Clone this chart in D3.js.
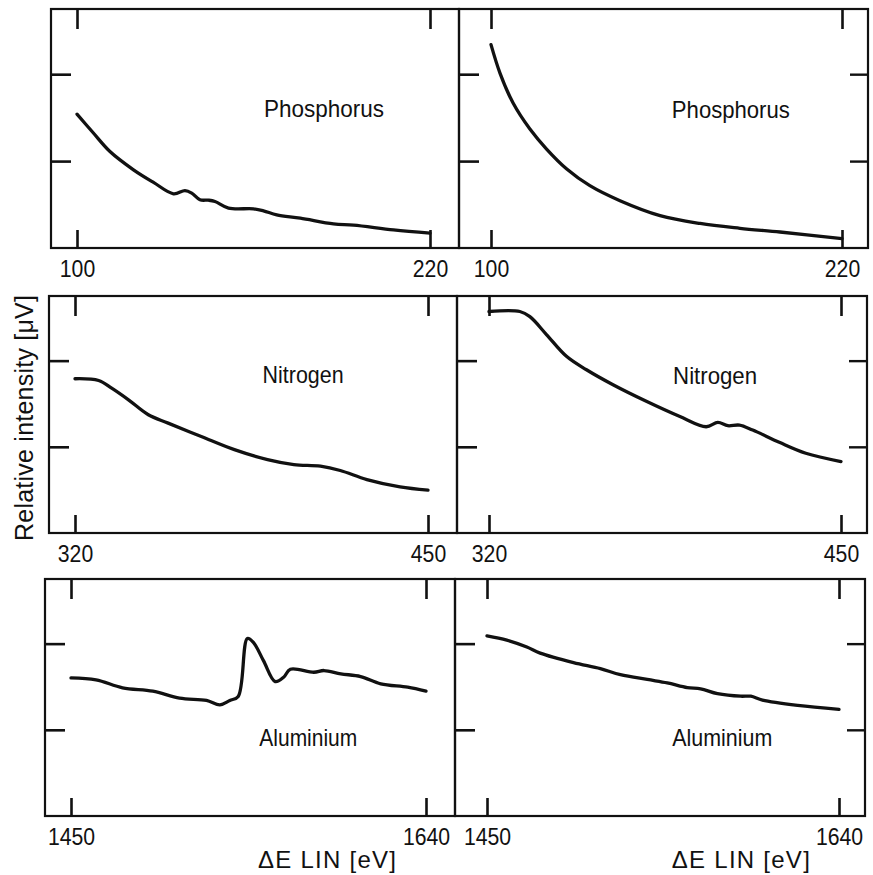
<!DOCTYPE html>
<html>
<head>
<meta charset="utf-8">
<script src="https://cdn.jsdelivr.net/npm/d3@7"></script>
<style>
  body { margin: 0; background: #fff; }
  text { font-family: "Liberation Sans", Arial, sans-serif; fill: #111; }
</style>
</head>
<body>
<svg id="chart" width="873" height="875"></svg>
<script>
// --- data (energy loss in eV, relative intensity) ---
var phosTicks = [100, 220];
var nitroTicks = [320, 450];
var alumTicks = [1450, 1640];

var phosLeftE = [100, 105.5, 111.2, 119.2, 126, 132.8, 136.7, 139, 141.8, 144.7, 146.9, 151.5, 160, 163.4, 167.9, 175.9, 187.2, 194, 207.6, 220];
var phosLeftI = [1.54, 1.326, 1.11, 0.90, 0.755, 0.624, 0.66, 0.632, 0.555, 0.55, 0.535, 0.459, 0.451, 0.428, 0.381, 0.343, 0.277, 0.262, 0.208, 0.17];

var phosRightE = [100, 103.1, 107.6, 113.3, 119, 125.9, 133.8, 144.1, 157.8, 171.5, 185.1, 198.8, 220];
var phosRightI = [2.34, 2.01, 1.665, 1.369, 1.139, 0.909, 0.717, 0.544, 0.372, 0.282, 0.227, 0.184, 0.109];

var nitroLeftE = [320, 328.7, 333.5, 339.7, 347, 354.3, 366.5, 378.7, 390.9, 400.6, 410.4, 417.7, 427.5, 439.7, 450];
var nitroLeftI = [1.79, 1.77, 1.68, 1.545, 1.372, 1.275, 1.12, 0.967, 0.852, 0.794, 0.775, 0.725, 0.62, 0.535, 0.497];

var nitroRightE = [320, 331.4, 335.1, 341.3, 348.6, 356, 365.8, 378.1, 390.3, 400.2, 404.5, 408.2, 412.5, 417.4, 427.2, 437, 450];
var nitroRightI = [2.57, 2.57, 2.51, 2.30, 2.05, 1.894, 1.72, 1.528, 1.354, 1.233, 1.283, 1.245, 1.252, 1.194, 1.052, 0.925, 0.829];

var alumLeftE = [1450, 1463.4, 1477.6, 1493.8, 1508.1, 1522.5, 1529.7, 1535, 1539.5, 1544.4, 1547.6, 1553, 1559.3, 1563.8, 1567.4, 1580, 1585.4, 1594.4, 1605, 1615.8, 1630.2, 1640];
var alumLeftI = [1.603, 1.58, 1.488, 1.449, 1.368, 1.341, 1.29, 1.341, 1.387, 2.06, 2.015, 1.803, 1.56, 1.61, 1.703, 1.668, 1.688, 1.65, 1.618, 1.534, 1.495, 1.449];

var alumRightE = [1450, 1460.7, 1471.5, 1478.7, 1496.7, 1511.2, 1522, 1536.5, 1547.3, 1558.1, 1565.3, 1574.4, 1587, 1592.4, 1598.7, 1617.7, 1640];
var alumRightI = [2.09, 2.04, 1.96, 1.89, 1.78, 1.71, 1.64, 1.584, 1.545, 1.49, 1.476, 1.42, 1.39, 1.39, 1.345, 1.283, 1.237];

var yTicks = [1, 2];
var yMax = 2.75;

// rows of the figure (scan is slightly skewed, so each row has its own frame)
var rows = [
    { top: 9,   bottom: 248, left: 51, mid: 459, right: 868 },
    { top: 296, bottom: 533, left: 49, mid: 457, right: 867 },
    { top: 579, bottom: 816, left: 45, mid: 455, right: 865 }
];

var panels = [
    { row: 0, side: "L", ticks: phosTicks,  e: phosLeftE,   v: phosLeftI,   name: "Phosphorus", w: 120, lx: 184,  ly: 1.51 },
    { row: 0, side: "R", ticks: phosTicks,  e: phosRightE,  v: phosRightI,  name: "Phosphorus", w: 118, lx: 182,  ly: 1.50 },
    { row: 1, side: "L", ticks: nitroTicks, e: nitroLeftE,  v: nitroLeftI,  name: "Nitrogen",   w: 81,  lx: 404,  ly: 1.74 },
    { row: 1, side: "R", ticks: nitroTicks, e: nitroRightE, v: nitroRightI, name: "Nitrogen",   w: 84,  lx: 403.5, ly: 1.73 },
    { row: 2, side: "L", ticks: alumTicks,  e: alumLeftE,   v: alumLeftI,   name: "Aluminium",  w: 98,  lx: 1577, ly: 0.81 },
    { row: 2, side: "R", ticks: alumTicks,  e: alumRightE,  v: alumRightI,  name: "Aluminium",  w: 100, lx: 1577, ly: 0.81 }
];

var svg = d3.select("#chart");
svg.append("rect").attr("width", 873).attr("height", 875).attr("fill", "#fff");

panels.forEach(function (p) {
    var r = rows[p.row];
    var x0 = p.side == "L" ? r.left : r.mid;
    var x1 = p.side == "L" ? r.mid : r.right;
    var padL = p.side == "L" ? 26 : 32;
    var padR = p.side == "L" ? 29 : 26;

    var x = d3.scaleLinear().domain(p.ticks).range([x0 + padL, x1 - padR]);
    var y = d3.scaleLinear().domain([0, yMax]).range([r.bottom, r.top]);

    var g = svg.append("g");

    // frame
    g.append("rect")
        .attr("x", x0).attr("y", r.top)
        .attr("width", x1 - x0).attr("height", r.bottom - r.top)
        .attr("fill", "none").attr("stroke", "#111").attr("stroke-width", 2.2);

    // bottom ticks + labels
    var xb = g.append("g").attr("transform", "translate(0," + r.bottom + ")")
        .call(d3.axisBottom(x).tickValues(p.ticks).tickSize(-18).tickPadding(12).tickFormat(d3.format("d")));
    // top ticks
    var xt = g.append("g").attr("transform", "translate(0," + r.top + ")")
        .call(d3.axisTop(x).tickValues(p.ticks).tickSize(-20).tickFormat(""));
    // left ticks
    var yl = g.append("g").attr("transform", "translate(" + x0 + ",0)")
        .call(d3.axisLeft(y).tickValues(yTicks).tickSize(-20).tickFormat(""));
    [xb, xt, yl].forEach(function (a) {
        a.select(".domain").remove();
        a.selectAll("line").attr("stroke", "#111").attr("stroke-width", 2.6);
    });
    if (p.side == "R") {
        var yr = g.append("g").attr("transform", "translate(" + x1 + ",0)")
            .call(d3.axisRight(y).tickValues(yTicks).tickSize(-18).tickFormat(""));
        yr.select(".domain").remove();
        yr.selectAll("line").attr("stroke", "#111").attr("stroke-width", 2.4);
    }
    xb.selectAll("text")
        .style("font-family", "'Liberation Sans', Arial, sans-serif")
        .style("font-size", "24px").attr("fill", "#111")
        .attr("textLength", function (d) { return String(d).length * 11.8; })
        .attr("lengthAdjust", "spacingAndGlyphs");

    // the curve
    var pts = p.e.map(function (d, i) { return [d, p.v[i]]; });
    g.append("path")
        .datum(pts)
        .attr("fill", "none")
        .attr("stroke", "#111")
        .attr("stroke-width", 3.3)
        .attr("stroke-linejoin", "round")
        .attr("stroke-linecap", "round")
        .attr("d", d3.line()
            .x(function (d) { return x(d[0]); })
            .y(function (d) { return y(d[1]); })
            .curve(d3.curveCatmullRom.alpha(0.5)));

    // element name
    g.append("text")
        .attr("x", x(p.lx)).attr("y", y(p.ly))
        .attr("text-anchor", "middle")
        .style("font-size", "24px")
        .attr("textLength", p.w)
        .attr("lengthAdjust", "spacingAndGlyphs")
        .text(p.name);

    // x axis title under the bottom row
    if (p.row == 2) {
        g.append("text")
            .attr("x", x(1587)).attr("y", 868)
            .attr("text-anchor", "middle")
            .style("font-size", "24px")
            .attr("textLength", 138)
            .attr("lengthAdjust", "spacing")
            .text("\u0394E LIN [eV]");
    }
});

// y axis title
svg.append("text")
    .attr("transform", "translate(33,418) rotate(-90)")
    .attr("text-anchor", "middle")
    .style("font-size", "25px")
    .attr("textLength", 246)
    .attr("lengthAdjust", "spacing")
    .text("Relative intensity [\u03BCV]");
</script>
</body>
</html>
